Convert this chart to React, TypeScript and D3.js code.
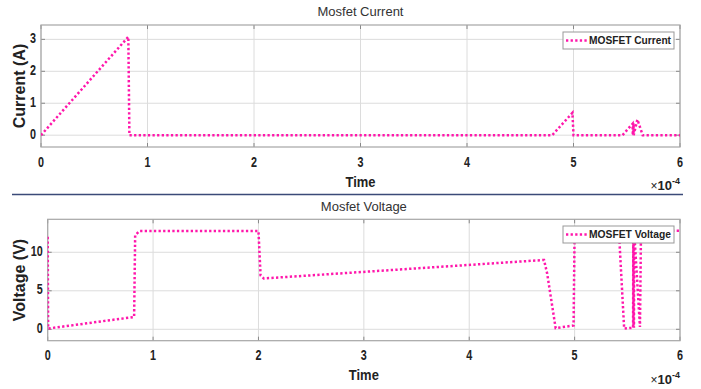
import React from "react";
import * as d3 from "d3";

// Time axis values are in units of 1e-4 s
const currentTime = [0, 0.82, 0.83, 4.8, 4.99, 5.0, 5.46, 5.555, 5.557, 5.559, 5.561, 5.563, 5.565, 5.6, 5.65, 6];
const currentValues = [0, 3.08, 0, 0, 0.7, 0, 0, 0.36, 0, 0.37, 0, 0.37, 0, 0.49, 0, 0];

const voltageTime = [0, 0.004, 0.82, 0.83, 0.87, 2.0, 2.02, 2.05, 4.71, 4.74, 4.82, 4.99, 5.0, 5.42, 5.47, 5.555, 5.557, 5.559, 5.561, 5.563, 5.565, 5.62, 5.63, 6];
const voltageValues = [12, 0.1, 1.6, 12.2, 12.75, 12.75, 7.0, 6.6, 9.0, 7.2, 0.15, 0.5, 12.8, 12.8, 0.1, 0.2, 12.8, 0.2, 12.8, 0.2, 12.8, 0.3, 12.8, 12.8];

const xTicks = [0, 1, 2, 3, 4, 5, 6];
const currentTicks = [0, 1, 2, 3];
const voltageTicks = [0, 5, 10];

const LINE = "#ff17ab";
const GRID = "#dcdcdc";
const BOX = "#a6a6a6";
const FONT = "Arial, 'Liberation Sans', sans-serif";
const DASH = "2.3 2.3";

type PanelProps = {
  title: string;
  yLabel: string;
  legend: string;
  t: number[];
  v: number[];
  yTicks: number[];
  yDomain: [number, number];
  left: number;
  right: number;
  top: number;
  bottom: number;
  titleY: number;
  tickY: number;
  timeY: number;
  expY: number;
  legendBox: [number, number, number, number];
};

// tick digits are drawn slightly condensed
const digitWidth = (s: string) => s.length * 6;

function Panel(p: PanelProps) {
  const x = d3.scaleLinear().domain([0, 6]).range([p.left, p.right]);
  const y = d3.scaleLinear().domain(p.yDomain).range([p.bottom, p.top]);
  const pts: [number, number][] = p.t.map((ti, i) => [ti, p.v[i]]);
  const line = d3
    .line<[number, number]>()
    .x((d) => x(d[0]))
    .y((d) => y(d[1]));
  const clipId = "clip-" + p.title.replace(/\s/g, "");
  const [lx, ly, lw, lh] = p.legendBox;
  const midX = (p.left + p.right) / 2;
  return (
    <g>
      <defs>
        <clipPath id={clipId}>
          <rect x={p.left} y={p.top} width={p.right - p.left} height={p.bottom - p.top} />
        </clipPath>
      </defs>
      <rect x={p.left} y={p.top} width={p.right - p.left} height={p.bottom - p.top} fill="#fff" />
      {xTicks.map((tk) => (
        <line key={"gx" + tk} x1={x(tk)} x2={x(tk)} y1={p.top} y2={p.bottom} stroke={GRID} strokeWidth={1} />
      ))}
      {p.yTicks.map((tk) => (
        <line key={"gy" + tk} x1={p.left} x2={p.right} y1={y(tk)} y2={y(tk)} stroke={GRID} strokeWidth={1} />
      ))}
      {/* inward tick marks on all four sides */}
      {xTicks.map((tk) => (
        <g key={"tx" + tk}>
          <line x1={x(tk)} x2={x(tk)} y1={p.bottom} y2={p.bottom - 4} stroke="#888" />
          <line x1={x(tk)} x2={x(tk)} y1={p.top} y2={p.top + 4} stroke="#888" />
        </g>
      ))}
      {p.yTicks.map((tk) => (
        <g key={"ty" + tk}>
          <line x1={p.left} x2={p.left + 4} y1={y(tk)} y2={y(tk)} stroke="#888" />
          <line x1={p.right} x2={p.right - 4} y1={y(tk)} y2={y(tk)} stroke="#888" />
        </g>
      ))}
      <rect x={p.left} y={p.top} width={p.right - p.left} height={p.bottom - p.top} fill="none" stroke={BOX} strokeWidth={1.2} />
      <path
        d={line(pts) ?? ""}
        fill="none"
        stroke={LINE}
        strokeWidth={2.5}
        strokeDasharray={DASH}
        clipPath={`url(#${clipId})`}
      />
      {/* tick labels */}
      {xTicks.map((tk) => (
        <text key={"lx" + tk} x={x(tk) - digitWidth(String(tk)) / 2} y={p.tickY} dominantBaseline="middle" fontFamily={FONT} fontWeight="bold" fontSize={14} fill="#222" textLength={digitWidth(String(tk))} lengthAdjust="spacingAndGlyphs">
          {tk}
        </text>
      ))}
      {p.yTicks.map((tk) => (
        <text key={"ly" + tk} x={p.left - 5 - digitWidth(String(tk))} y={y(tk)} dominantBaseline="middle" fontFamily={FONT} fontWeight="bold" fontSize={14} fill="#222" textLength={digitWidth(String(tk))} lengthAdjust="spacingAndGlyphs">
          {tk}
        </text>
      ))}
      <text x={midX} y={p.titleY} textAnchor="middle" dominantBaseline="middle" fontFamily={FONT} fontSize={13} fill="#333">
        {p.title}
      </text>
      <text x={midX - 15} y={p.timeY} dominantBaseline="middle" fontFamily={FONT} fontWeight="bold" fontSize={15} fill="#222" textLength={30} lengthAdjust="spacingAndGlyphs">
        Time
      </text>
      <text
        transform={`translate(21,${(p.top + p.bottom) / 2}) rotate(-90)`}
        textAnchor="middle"
        dominantBaseline="middle"
        fontFamily={FONT}
        fontWeight="bold"
        fontSize={16}
        fill="#222"
      >
        {p.yLabel}
      </text>
      <text x={p.right} y={p.expY} textAnchor="end" fontFamily={FONT} fontSize={13} fill="#222">
        <tspan fontSize={12}>×</tspan>
        <tspan fontWeight="bold">10</tspan>
        <tspan fontWeight="bold" fontSize={9} dy={-6}>-4</tspan>
      </text>
      {/* legend */}
      <rect x={lx} y={ly} width={lw} height={lh} fill="#fff" stroke="#999" strokeWidth={1} />
      <line x1={lx + 3} x2={lx + 24} y1={ly + lh / 2} y2={ly + lh / 2} stroke={LINE} strokeWidth={2.5} strokeDasharray={DASH} />
      <text x={lx + 26} y={ly + lh / 2 + 0.5} dominantBaseline="middle" fontFamily={FONT} fontWeight="bold" fontSize={11.5} fill="#222" textLength={lw - 29} lengthAdjust="spacingAndGlyphs">
        {p.legend}
      </text>
    </g>
  );
}

export default function App() {
  return (
    <svg width={701} height={389} style={{ position: "absolute", left: 0, top: 0, background: "#fff" }}>
      <rect width={701} height={389} fill="#fff" />
      <Panel
        title="Mosfet Current"
        yLabel="Current (A)"
        legend="MOSFET Current"
        t={currentTime}
        v={currentValues}
        yTicks={currentTicks}
        yDomain={[-0.37, 3.45]}
        left={41}
        right={680}
        top={25}
        bottom={147}
        titleY={13}
        tickY={163}
        timeY={183}
        expY={190}
        legendBox={[563, 32, 111, 17]}
      />
      <line x1={12} x2={683} y1={194.5} y2={194.5} stroke="#3b4a78" strokeWidth={1.5} />
      <Panel
        title="Mosfet Voltage"
        yLabel="Voltage (V)"
        legend="MOSFET Voltage"
        t={voltageTime}
        v={voltageValues}
        yTicks={voltageTicks}
        yDomain={[-1.48, 14.28]}
        left={47.7}
        right={680}
        top={219.3}
        bottom={340.7}
        titleY={208}
        tickY={356}
        timeY={376}
        expY={384}
        legendBox={[563, 226, 111, 17]}
      />
    </svg>
  );
}
